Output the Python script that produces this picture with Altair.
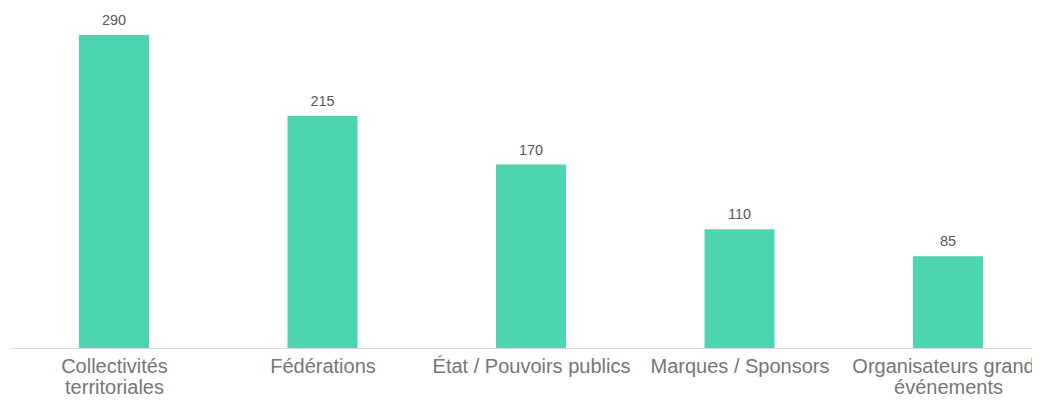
import altair as alt
import pandas as pd

categories = [
    "Collectivités territoriales",
    "Fédérations",
    "État / Pouvoirs publics",
    "Marques / Sponsors",
    "Organisateurs grands événements",
]
values = [290, 215, 170, 110, 85]
label_lines = [
    ["Collectivités", "territoriales"],
    ["Fédérations"],
    ["État / Pouvoirs publics"],
    ["Marques / Sponsors"],
    ["Organisateurs grands", "événements"],
]

df = pd.DataFrame({"cat": categories, "val": values, "pos": list(range(len(categories)))})

lines_js = "[" + ",".join(
    "[" + ",".join(f"'{s}'" for s in l) + "]" for l in label_lines
) + "]"
expr = f"{lines_js}[datum.value]"

FONT = "Liberation Sans"

x = alt.X(
    "pos:Q",
    title=None,
    scale=alt.Scale(domain=[-0.4988, 4.4029], nice=False, zero=False, padding=0),
    axis=alt.Axis(
        values=list(range(len(categories))),
        labelAngle=0,
        ticks=False,
        grid=False,
        domainColor="#d9d9d9",
        domainWidth=1,
        labelFont=FONT,
        labelFontSize=20,
        labelColor="#767676",
        labelPadding=8,
        labelLineHeight=21,
        labelExpr=expr,
        labelOverlap=False,
        labelFlush=False,
        labelBound=False,
        labelLimit=400,
    ),
)
y = alt.Y("val:Q", scale=alt.Scale(domain=[0, 315]), axis=None)

base = alt.Chart(df).encode(x=x, y=y)
bars = base.mark_bar(color="#4cd5b0", size=70, orient="vertical")
text = base.mark_text(
    dy=-14, font=FONT, fontSize=14.5, color="#595959"
).encode(text="val:Q")

chart = (
    (bars + text)
    .properties(
        width=1022,
        height=340,
        background="white",
        autosize=alt.AutoSizeParams(type="none"),
        padding={"left": 2, "top": 0, "right": 0, "bottom": 48},
    )
    .configure_view(stroke=None, strokeWidth=0)
)

chart.save("out.html", embed_options={"renderer": "svg", "actions": False})
